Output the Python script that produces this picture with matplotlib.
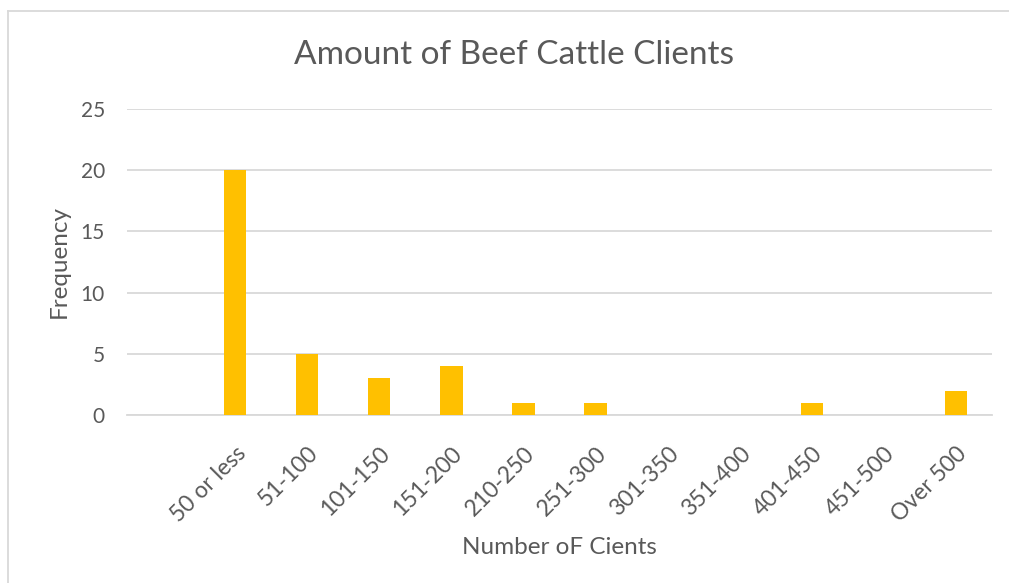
import matplotlib
matplotlib.use("Agg")
import matplotlib.pyplot as plt
from matplotlib.lines import Line2D

categories = ["", "50 or less", "51-100", "101-150", "151-200", "210-250", "251-300",
              "301-350", "351-400", "401-450", "451-500", "Over 500"]
frequency = [0, 20, 5, 3, 4, 1, 1, 0, 0, 1, 0, 2]
yticks = [0, 5, 10, 15, 20, 25]

title = "Amount of Beef Cattle Clients"
xlabel = "Number oF Cients"
ylabel = "Frequency"

plt.rcParams['font.family'] = ['Lato', 'DejaVu Sans']
txt = "#595959"
grid = "#d9d9d9"

fig = plt.figure(figsize=(10.09, 5.83), dpi=100)
ax = fig.add_axes([127/1009, 1-415/583, (992-127)/1009, (415-109)/583])

x = list(range(len(categories)))
ax.bar(x, frequency, width=0.31, color="#FFC000", zorder=3)
ax.set_xlim(-0.5, len(categories)-0.5)
ax.set_ylim(0, 25)
ax.set_yticks(yticks)
ax.set_yticklabels([str(v) for v in yticks], color=txt, fontsize=15)
ax.yaxis.grid(True, color=grid, linewidth=1.3, zorder=0)
ax.set_xticks(x)
ax.set_xticklabels(categories, rotation=45, ha='right', rotation_mode='anchor',
                   color=txt, fontsize=16.5)
ax.tick_params(axis='both', length=0)
ax.tick_params(axis='y', pad=16)
ax.tick_params(axis='x', pad=20)
for s in ['top', 'right', 'left']:
    ax.spines[s].set_visible(False)
ax.spines['bottom'].set_color(grid)
ax.spines['bottom'].set_linewidth(1.3)

ax.set_xlabel(xlabel, color=txt, fontsize=17.5, labelpad=8)
ax.set_ylabel(ylabel, color=txt, fontsize=17.5, labelpad=8)
fig.text(514/1009, 1-55/583, title, ha='center', va='center', color=txt, fontsize=24)

fig.add_artist(Line2D([8/1009, 1], [1-11/583, 1-11/583], color=grid, linewidth=1.3,
                      transform=fig.transFigure))
fig.add_artist(Line2D([8/1009, 8/1009], [0, 1-11/583], color=grid, linewidth=1.3,
                      transform=fig.transFigure))

fig.savefig("out.png", dpi=100)
